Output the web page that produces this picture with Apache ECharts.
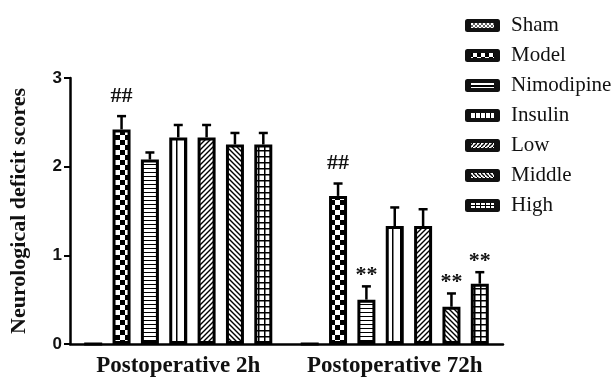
<!DOCTYPE html>
<html><head><meta charset="utf-8">
<script src="https://cdn.jsdelivr.net/npm/echarts@6/dist/echarts.min.js"></script>
<style>html,body{margin:0;padding:0;background:#fff}#c{width:614px;height:378px}</style>
</head><body><div id="c"></div>
<script>
// ---- data ----
const categories = ['Postoperative 2h', 'Postoperative 72h'];
const groupNames = ['Sham', 'Model', 'Nimodipine', 'Insulin', 'Low', 'Middle', 'High'];
const sham = [0, 0];           const shamErr = [0, 0];           const shamMark = ['', ''];
const model = [2.42, 1.67];    const modelErr = [0.15, 0.14];    const modelMark = ['##', '##'];
const nimodipine = [2.08, 0.50]; const nimodipineErr = [0.08, 0.15]; const nimodipineMark = ['', '**'];
const insulin = [2.33, 1.33];  const insulinErr = [0.14, 0.21];  const insulinMark = ['', ''];
const low = [2.33, 1.33];      const lowErr = [0.14, 0.19];      const lowMark = ['', ''];
const middle = [2.25, 0.42];   const middleErr = [0.13, 0.15];   const middleMark = ['', '**'];
const high = [2.25, 0.68];     const highErr = [0.13, 0.13];     const highMark = ['', '**'];
const yMin = 0, yMax = 3, yInterval = 1;

const values = [sham, model, nimodipine, insulin, low, middle, high];
const errors = [shamErr, modelErr, nimodipineErr, insulinErr, lowErr, middleErr, highErr];
const marks = [shamMark, modelMark, nimodipineMark, insulinMark, lowMark, middleMark, highMark];

// ---- patterns ----
function tile(w, h, draw) {
  const c = document.createElement('canvas');
  c.width = w; c.height = h;
  const g = c.getContext('2d');
  g.fillStyle = '#fff'; g.fillRect(0, 0, w, h);
  g.fillStyle = '#000'; g.strokeStyle = '#000';
  draw(g, w, h);
  return c;
}
const tiles = [
  tile(4, 4, g => { g.fillRect(0, 0, 2, 2); g.fillRect(2, 2, 2, 2); }),
  tile(10, 10, g => { g.fillRect(0, 0, 5, 5); g.fillRect(5, 5, 5, 5); }),
  tile(4, 4, g => { g.fillRect(0, 0, 4, 1); }),
  tile(8, 8, g => { g.fillRect(0, 0, 1.5, 8); }),
  tile(5, 5, g => { g.lineWidth = 1.4; g.beginPath(); g.moveTo(-1, 6); g.lineTo(6, -1); g.moveTo(-1, 1); g.lineTo(1, -1); g.moveTo(4, 6); g.lineTo(6, 4); g.stroke(); }),
  tile(5, 5, g => { g.lineWidth = 1.4; g.beginPath(); g.moveTo(-1, -1); g.lineTo(6, 6); g.moveTo(-1, 4); g.lineTo(1, 6); g.moveTo(4, -1); g.lineTo(6, 1); g.stroke(); }),
  tile(6, 6, g => { g.fillRect(0, 0, 6, 1.5); g.fillRect(0, 0, 1.5, 6); })
];
const patterns = tiles.map(c => ({ image: c, repeat: 'repeat' }));

// legend icons: black rounded frame with the pattern inside
const legendTiles = [
  tile(4, 4, g => { g.fillStyle = '#666'; g.fillRect(0, 0, 2, 2); g.fillRect(2, 2, 2, 2); }),
  tile(8, 8, g => { g.fillRect(0, 0, 4, 4); g.fillRect(4, 4, 4, 4); }),
  tile(4, 4, g => { g.fillRect(0, 2, 4, 2); }),
  tile(5, 5, g => { g.fillRect(0, 0, 1, 5); }),
  tile(4, 4, g => { g.lineWidth = 1.3; g.beginPath(); g.moveTo(-1, 5); g.lineTo(5, -1); g.stroke(); }),
  tile(4, 4, g => { g.lineWidth = 1.3; g.beginPath(); g.moveTo(-1, -1); g.lineTo(5, 5); g.stroke(); }),
  tile(5, 4, g => { g.fillRect(0, 0, 1, 4); g.fillRect(0, 2, 5, 1); })
];
function legendIcon(i) {
  const c = document.createElement('canvas');
  c.width = 35; c.height = 13;
  const g = c.getContext('2d');
  g.fillStyle = '#111';
  const r = 2.5, w = 35, h = 13;
  g.beginPath();
  g.moveTo(r, 0); g.lineTo(w - r, 0); g.quadraticCurveTo(w, 0, w, r);
  g.lineTo(w, h - r); g.quadraticCurveTo(w, h, w - r, h);
  g.lineTo(r, h); g.quadraticCurveTo(0, h, 0, h - r);
  g.lineTo(0, r); g.quadraticCurveTo(0, 0, r, 0);
  g.fill();
  g.fillStyle = g.createPattern(legendTiles[i], 'repeat');
  g.fillRect(6, 4, 23, 5);
  return 'image://' + c.toDataURL();
}

const BAR_W = 18, BAR_GAP = 0.575;
const step = BAR_W * (1 + BAR_GAP);
const font = "'Liberation Serif', 'Times New Roman', serif";

const series = [];
groupNames.forEach((name, i) => {
  series.push({
    name: name, type: 'bar', barWidth: BAR_W, barGap: (BAR_GAP * 100) + '%',
    data: values[i],
    itemStyle: { color: patterns[i], borderColor: '#000', borderWidth: 3 },
    emphasis: { disabled: true }, z: 2
  });
});
groupNames.forEach((name, i) => {
  series.push({
    name: name + ' err', type: 'custom', z: 3, silent: true,
    data: values[i].map((v, k) => [k, v, errors[i][k]]),
    encode: { x: 0, y: 1 },
    renderItem: function (params, api) {
      const ci = api.value(0), v = api.value(1), e = api.value(2);
      const off = (i - (groupNames.length - 1) / 2) * step;
      const b = api.coord([ci, v]);
      const t = api.coord([ci, v + e]);
      const x = b[0] + off;
      const children = [];
      if (e > 0) {
        children.push({ type: 'line', shape: { x1: x, y1: b[1], x2: x, y2: t[1] }, style: { stroke: '#000', lineWidth: 2.5 } });
        children.push({ type: 'line', shape: { x1: x - 4.5, y1: t[1], x2: x + 4.5, y2: t[1] }, style: { stroke: '#000', lineWidth: 2.5 } });
      }
      const m = marks[i][params.dataIndex];
      if (m) {
        children.push({ type: 'text', x: x, y: t[1] - (m === '**' ? 0 : 9),
          style: { text: m, fill: '#111', font: "bold 22px " + font, align: 'center', verticalAlign: 'bottom' } });
      }
      return { type: 'group', children: children };
    }
  });
});

const chart = echarts.init(document.getElementById('c'), null, { renderer: 'canvas' });
chart.setOption({
  animation: false,
  backgroundColor: '#fff',
  grid: { left: 69, right: 111, top: 78, bottom: 34, containLabel: false },
  legend: {
    data: groupNames.map((n, i) => ({ name: n, icon: legendIcon(i) })),
    orient: 'vertical', left: 460, top: 10,
    itemWidth: 35, itemHeight: 13, itemGap: 9,
    textStyle: { fontFamily: font, fontSize: 21, color: '#111', padding: [0, 0, 0, 6] }
  },
  xAxis: {
    type: 'category', data: categories,
    axisLine: { lineStyle: { color: '#000', width: 2.5 } },
    axisTick: { alignWithLabel: true, length: 7, lineStyle: { color: '#000', width: 2 } },
    axisLabel: { interval: 0, fontFamily: font, fontWeight: 'bold', fontSize: 23, color: '#111', margin: 11 }
  },
  yAxis: {
    type: 'value', min: yMin, max: yMax, interval: yInterval,
    name: 'Neurological deficit scores', nameLocation: 'middle', nameGap: 40,
    nameTextStyle: { fontFamily: font, fontWeight: 'bold', fontSize: 22, color: '#111' },
    splitLine: { show: false },
    axisLine: { show: true, lineStyle: { color: '#000', width: 2.5 } },
    axisTick: { show: true, length: 6, lineStyle: { color: '#000', width: 2 } },
    axisLabel: { fontFamily: "'Liberation Sans', Arial, sans-serif", fontWeight: 'bold', fontSize: 17, color: '#111', margin: 8 }
  },
  series: series
});
</script>
</body></html>
